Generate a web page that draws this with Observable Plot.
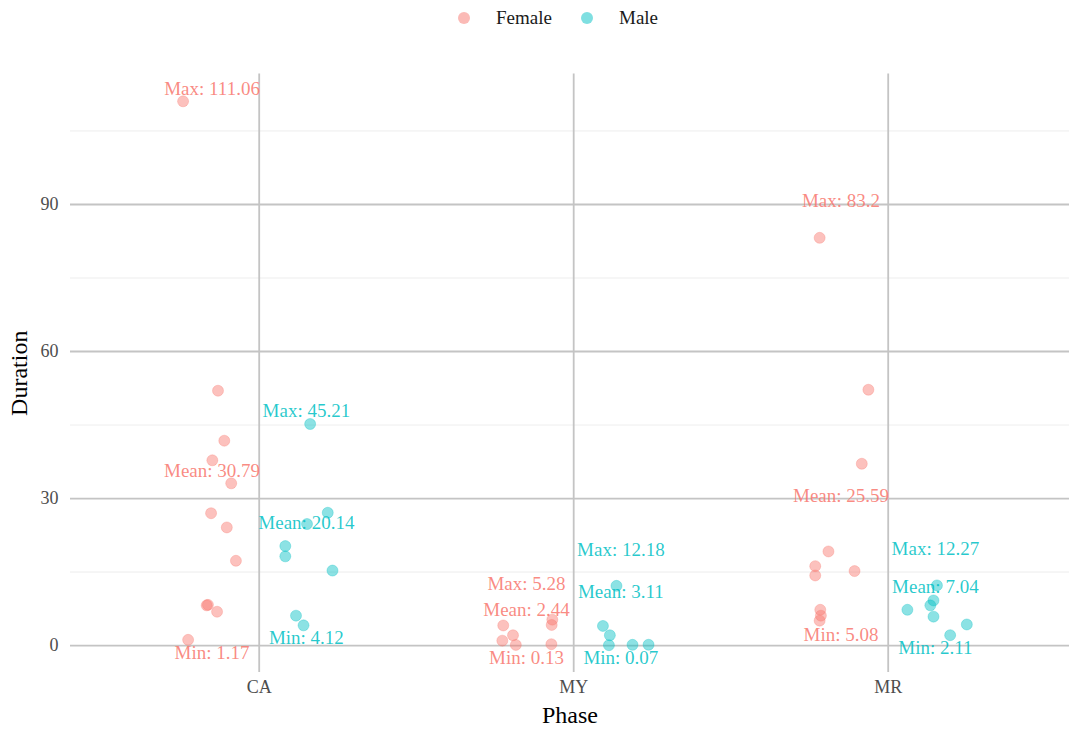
<!DOCTYPE html>
<html>
<head>
<meta charset="utf-8">
<script src="https://cdn.jsdelivr.net/npm/d3@7"></script>
<script src="https://cdn.jsdelivr.net/npm/@observablehq/plot@0.6"></script>
<style>
  html, body { margin: 0; padding: 0; background: #ffffff; }
  body { width: 1069px; height: 730px; overflow: hidden; font-family: "Liberation Serif", serif; }
  #legend { height: 35px; position: relative; }
  .item { position: absolute; top: 0; height: 35px; display: flex; align-items: center; font-size: 19px; color: #1a1a1a; }
  .sw { width: 12px; height: 12px; border-radius: 50%; opacity: 0.5; margin-right: 26px; }
</style>
</head>
<body>
<div id="legend"></div>
<div id="chart"></div>
<script>
// ---------- data ----------
const phases = ["CA", "MY", "MR"];
const sexes = ["Female", "Male"];
const sexColors = ["#F8766D", "#00BFC4"];

// Duration values per phase / sex, with horizontal jitter (phase units)
const caFemaleDur = [111.06, 52.0, 41.8, 37.8, 33.1, 27.0, 24.1, 17.3, 8.2, 8.3, 6.9, 1.17];
const caFemaleJit = [-0.242, -0.131, -0.111, -0.149, -0.089, -0.153, -0.103, -0.074, -0.167, -0.163, -0.134, -0.226];
const caMaleDur = [45.21, 27.1, 24.8, 20.3, 18.2, 15.3, 6.1, 4.12];
const caMaleJit = [0.162, 0.218, 0.152, 0.083, 0.083, 0.233, 0.117, 0.141];

const myFemaleDur = [5.28, 4.2, 4.1, 2.1, 1.0, 0.13, 0.27];
const myFemaleJit = [-0.068, -0.070, -0.224, -0.193, -0.227, -0.184, -0.071];
const myMaleDur = [12.18, 4.0, 2.1, 0.07, 0.15, 0.16];
const myMaleJit = [0.136, 0.093, 0.115, 0.112, 0.187, 0.238];

const mrFemaleDur = [83.2, 52.2, 37.1, 19.2, 16.2, 14.3, 15.2, 7.3, 6.1, 5.08];
const mrFemaleJit = [-0.218, -0.063, -0.084, -0.190, -0.232, -0.232, -0.107, -0.216, -0.214, -0.218];
const mrMaleDur = [12.27, 9.2, 8.2, 5.9, 7.3, 4.3, 2.11];
const mrMaleJit = [0.155, 0.144, 0.134, 0.144, 0.061, 0.250, 0.197];

// Summary labels (text placed by a repel layout; y in Duration units)
const labelPhase = ["CA","CA","CA","CA","CA","CA","MY","MY","MY","MY","MY","MY","MR","MR","MR","MR","MR","MR"];
const labelSex   = ["Female","Female","Female","Male","Male","Male","Female","Female","Female","Male","Male","Male","Female","Female","Female","Male","Male","Male"];
const labelText  = ["Max: 111.06","Mean: 30.79","Min: 1.17","Max: 45.21","Mean: 20.14","Min: 4.12",
                    "Max: 5.28","Mean: 2.44","Min: 0.13","Max: 12.18","Mean: 3.11","Min: 0.07",
                    "Max: 83.2","Mean: 25.59","Min: 5.08","Max: 12.27","Mean: 7.04","Min: 2.11"];
const labelY     = [113.6, 35.7, -1.6, 47.8, 25.1, 1.5,
                    12.65, 7.35, -2.45, 19.6, 11.0, -2.45,
                    90.8, 30.6, 2.25, 19.8, 12.0, -0.5];

const dodge = 0.15;
const yTicks = [0, 30, 60, 90];
const yMinor = [15, 45, 75, 105];

// ---------- build tables ----------
const groups = [
  ["CA","Female",caFemaleDur,caFemaleJit],["CA","Male",caMaleDur,caMaleJit],
  ["MY","Female",myFemaleDur,myFemaleJit],["MY","Male",myMaleDur,myMaleJit],
  ["MR","Female",mrFemaleDur,mrFemaleJit],["MR","Male",mrMaleDur,mrMaleJit]
];
const points = [];
for (const [p, s, dur, jit] of groups) {
  dur.forEach((d, i) => points.push({phase: p, sex: s, duration: d, x: phases.indexOf(p) + 1 + jit[i]}));
}
const labels = labelText.map((t, i) => ({
  text: t, sex: labelSex[i], y: labelY[i],
  x: phases.indexOf(labelPhase[i]) + 1 + (labelSex[i] === "Female" ? -dodge : dodge)
}));

// ---------- legend ----------
const legend = document.getElementById("legend");
const legendLeft = [458, 581];
sexes.forEach((s, i) => {
  const it = document.createElement("div");
  it.className = "item";
  it.style.left = legendLeft[i] + "px";
  it.innerHTML = `<span class="sw" style="background:${sexColors[i]}"></span><span>${s}</span>`;
  legend.appendChild(it);
});

// ---------- chart ----------
const W = 1069, H = 695;
const mL = 70, mR = 0, mT = 38.6, mB = 58.1;
const step = 314.5;
const chart = Plot.plot({
  width: W, height: H,
  marginLeft: mL, marginRight: mR, marginTop: mT, marginBottom: mB,
  style: {fontFamily: "Liberation Serif, serif", background: "#ffffff", overflow: "visible"},
  x: {type: "linear", domain: [0.4, 0.4 + (W - mL - mR) / step]},
  y: {domain: [-5.48, 116.61]},
  color: {domain: sexes, range: sexColors},
  marks: [
    Plot.ruleY(yMinor, {stroke: "#ebebeb", strokeWidth: 0.9}),
    Plot.ruleY(yTicks, {stroke: "#c4c4c4", strokeWidth: 1.8}),
    Plot.ruleX([1, 2, 3], {stroke: "#c4c4c4", strokeWidth: 1.8}),
    Plot.axisY({ticks: yTicks, tickSize: 0, tickPadding: 12, fontSize: 18, fill: "#4d4d4d", label: null}),
    Plot.axisX({ticks: [1, 2, 3], tickFormat: d => phases[d - 1], tickSize: 0, tickPadding: 8, fontSize: 18, fill: "#4d4d4d", label: null}),
    Plot.text(["Duration"], {frameAnchor: "left", textAnchor: "middle", rotate: -90, dx: -51, fontSize: 24, fill: "#000000"}),
    Plot.text(["Phase"], {frameAnchor: "bottom", textAnchor: "middle", dy: 51, fontSize: 24, fill: "#000000"}),
    Plot.dot(points, {x: "x", y: "duration", r: 5.5, fill: "sex", stroke: "sex", fillOpacity: 0.45, strokeOpacity: 0.5, strokeWidth: 0.6}),
    Plot.text(labels, {x: "x", y: "y", text: "text", fill: "sex", fillOpacity: 0.85, fontSize: 19})
  ]
});
document.getElementById("chart").appendChild(chart);
</script>
</body>
</html>
